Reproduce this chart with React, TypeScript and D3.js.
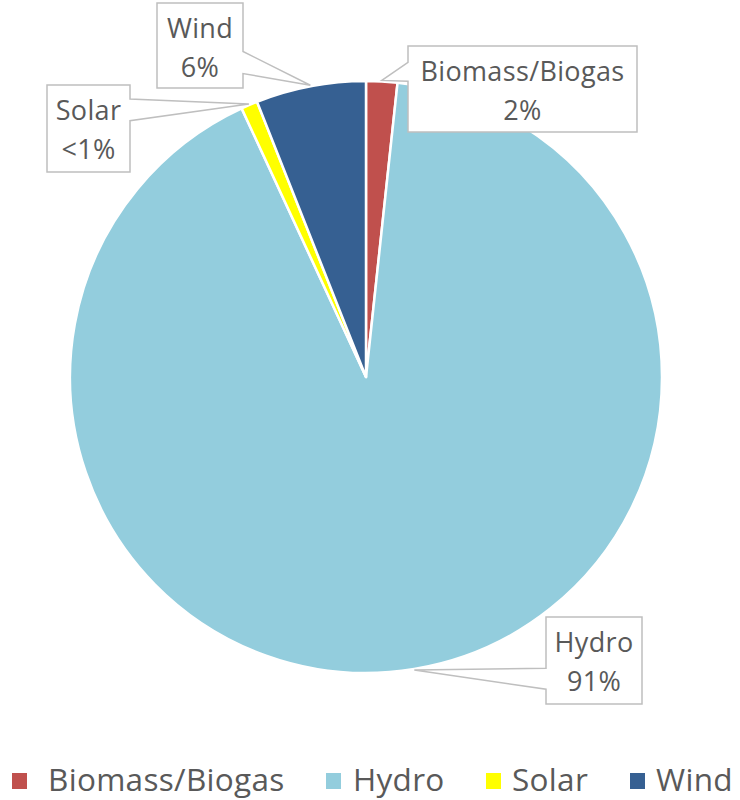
import React from "react";
import * as d3 from "d3";

// Share of renewable electricity by source (%)
const categories = ["Biomass/Biogas", "Hydro", "Solar", "Wind"];
const shares = [1.7, 91.4, 0.9, 6.0];
const colors = ["#C0504D", "#93CDDD", "#FFFF00", "#366092"];

const W = 740;
const H = 800;
const CX = 366;
const CY = 377;
const R = 296;

const FONT = "'Open Sans', Lato, sans-serif";
const TEXT = "#595959";

// Callout boxes: position of each box and where the pointer leaves it
const callouts = [
  { x: 408, y: 46, w: 229, h: 86, side: "left", base: [0.19, 0.41] },
  { x: 546, y: 617, w: 96, h: 87, side: "left", base: [0.59, 0.83] },
  { x: 47, y: 85, w: 83, h: 87, side: "right", base: [0.16, 0.41] },
  { x: 157, y: 3, w: 86, h: 85, side: "right", base: [0.57, 0.83] },
];

// Legend layout: marker left edge and text start for each entry
const legendMarkerX = [12, 326, 486, 630];
const legendTextX = [48, 353, 512, 656];

function pctLabel(v: number) {
  return v < 1 ? "<1%" : `${Math.round(v)}%`;
}

export default function App() {
  const pie = d3
    .pie<number>()
    .sort(null)
    .value((d) => d)
    .startAngle(0)
    .endAngle(2 * Math.PI);
  const arcs = pie(shares);
  const arc = d3.arc<d3.PieArcDatum<number>>().innerRadius(0).outerRadius(R);

  return (
    <svg
      width={W}
      height={H}
      style={{ position: "absolute", left: 0, top: 0, background: "#fff" }}
    >
      <g transform={`translate(${CX},${CY})`}>
        {arcs.map((a, i) => (
          <path
            key={categories[i]}
            d={arc(a) || ""}
            fill={colors[i]}
            stroke="#fff"
            strokeWidth={2.5}
            strokeLinejoin="round"
          />
        ))}
      </g>

      {arcs.map((a, i) => {
        const c = callouts[i];
        const mid = (a.startAngle + a.endAngle) / 2;
        const tx = CX + Math.sin(mid) * (R + 1);
        const ty = CY - Math.cos(mid) * (R + 1);
        const ex = c.side === "left" ? c.x : c.x + c.w;
        const b0 = c.y + c.h * c.base[0];
        const b1 = c.y + c.h * c.base[1];
        const pts: [number, number][] =
          c.side === "left"
            ? [
                [c.x, c.y],
                [c.x + c.w, c.y],
                [c.x + c.w, c.y + c.h],
                [c.x, c.y + c.h],
                [ex, b1],
                [tx, ty],
                [ex, b0],
              ]
            : [
                [c.x, c.y],
                [c.x + c.w, c.y],
                [ex, b0],
                [tx, ty],
                [ex, b1],
                [c.x + c.w, c.y + c.h],
                [c.x, c.y + c.h],
              ];
        const cxText = c.x + c.w / 2;
        return (
          <g key={categories[i]}>
            <path
              d={`M${pts.map((p) => p.join(",")).join("L")}Z`}
              fill="#fff"
              stroke="#BFBFBF"
              strokeWidth={1.5}
            />
            <text
              x={cxText}
              y={c.y + 35}
              textAnchor="middle"
              fontFamily={FONT}
              fontSize={27}
              letterSpacing={0.35}
              fill={TEXT}
            >
              {categories[i]}
            </text>
            <text
              x={cxText}
              y={c.y + 74}
              textAnchor="middle"
              fontFamily={FONT}
              fontSize={27}
              letterSpacing={0.35}
              fill={TEXT}
            >
              {pctLabel(shares[i])}
            </text>
          </g>
        );
      })}

      <g>
        {categories.map((name, i) => (
          <g key={name}>
            <rect x={legendMarkerX[i]} y={773} width={15} height={16} fill={colors[i]} />
            <text
              x={legendTextX[i]}
              y={790.5}
              fontFamily={FONT}
              fontSize={31.5}
              letterSpacing={0.3}
              fill={TEXT}
            >
              {name}
            </text>
          </g>
        ))}
      </g>
    </svg>
  );
}
